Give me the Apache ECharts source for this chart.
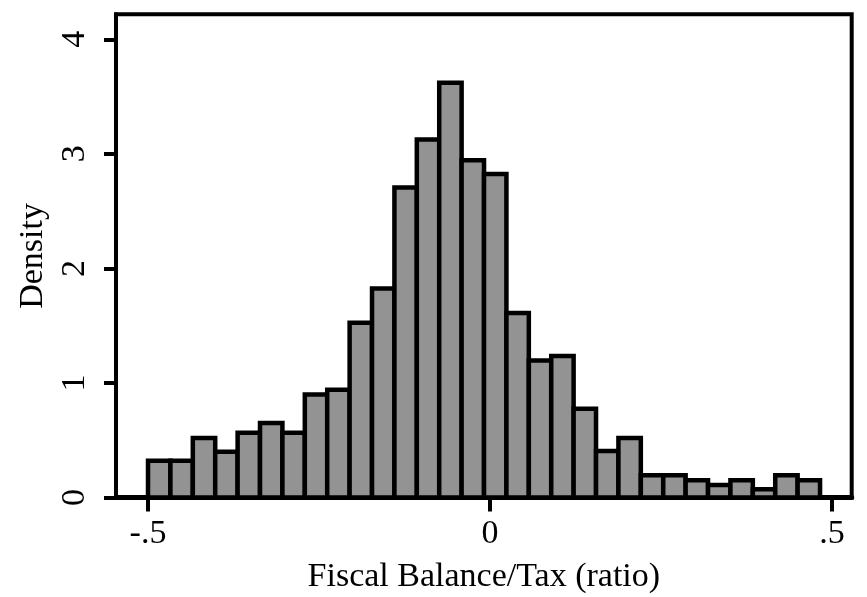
<!DOCTYPE html>
<html>
<head>
<meta charset="utf-8">
<script src="https://cdn.jsdelivr.net/npm/echarts@6/dist/echarts.min.js"></script>
<style>
html,body{margin:0;padding:0;background:#fff;}
#chart{width:867px;height:597px;}
</style>
</head>
<body>
<div id="chart"></div>
<script>
// Histogram bins
const binStart = -0.5;
const binWidth = 0.03275;
const densities = [0.32, 0.32, 0.52, 0.40, 0.565, 0.65, 0.565, 0.90, 0.94, 1.525,
                   1.825, 2.705, 3.125, 3.62, 2.945, 2.825, 1.61, 1.195, 1.235, 0.775,
                   0.405, 0.52, 0.195, 0.195, 0.15, 0.11, 0.15, 0.072, 0.195, 0.15];
const xTickValues = [-0.5, 0, 0.5];
const xTickLabels = ['-.5', '0', '.5'];
const yTickValues = [0, 1, 2, 3, 4];
const yTickLabels = ['0', '1', '2', '3', '4'];
const xTitle = 'Fiscal Balance/Tax (ratio)';
const yTitle = 'Density';

const histData = densities.map((d, i) => [binStart + i * binWidth, binStart + (i + 1) * binWidth, d]);

const font = 'Liberation Serif';
const fs = 34;
const chart = echarts.init(document.getElementById('chart'), null, {renderer: 'canvas'});
chart.setOption({
  animation: false,
  backgroundColor: '#fff',
  grid: {
    left: 116, right: 15.3, top: 14.3, bottom: 99.5,
    outerBoundsMode: 'none', containLabel: false,
    show: true, borderColor: '#000', borderWidth: 4, backgroundColor: 'transparent'
  },
  xAxis: {
    type: 'value',
    min: -0.5468, max: 0.5288,
    splitLine: {show: false},
    axisLine: {show: true, onZero: false, lineStyle: {color: '#000', width: 5}},
    axisTick: {show: true, length: 14, lineStyle: {color: '#000', width: 4}, customValues: xTickValues},
    axisLabel: {
      show: true, customValues: xTickValues, margin: 20,
      fontFamily: font, fontSize: fs, color: '#000',
      formatter: v => { const i = xTickValues.findIndex(t => Math.abs(t - v) < 1e-9); return i >= 0 ? xTickLabels[i] : ''; }
    },
    name: xTitle, nameLocation: 'middle', nameGap: 63,
    nameTextStyle: {fontFamily: font, fontSize: fs, color: '#000'}
  },
  yAxis: {
    type: 'value',
    min: 0, max: 4.218,
    splitLine: {show: false},
    axisLine: {show: true, onZero: false, lineStyle: {color: '#000', width: 4}},
    axisTick: {show: true, length: 12, lineStyle: {color: '#000', width: 4}, customValues: yTickValues},
    axisLabel: {
      show: true, customValues: yTickValues, rotate: 90, margin: 24,
      fontFamily: font, fontSize: fs, color: '#000',
      formatter: v => { const i = yTickValues.findIndex(t => Math.abs(t - v) < 1e-9); return i >= 0 ? yTickLabels[i] : ''; }
    },
    name: yTitle, nameLocation: 'middle', nameGap: 53, nameRotate: 90,
    nameTextStyle: {fontFamily: font, fontSize: fs, color: '#000'}
  },
  series: [{
    type: 'custom',
    data: histData,
    encode: {x: [0, 1], y: 2},
    renderItem: function (params, api) {
      const p0 = api.coord([api.value(0), api.value(2)]);
      const p1 = api.coord([api.value(1), 0]);
      return {
        type: 'rect',
        shape: {x: p0[0], y: p0[1], width: p1[0] - p0[0], height: p1[1] - p0[1]},
        style: {fill: '#939393', stroke: '#000', lineWidth: 4.5}
      };
    }
  }]
});
</script>
</body>
</html>
